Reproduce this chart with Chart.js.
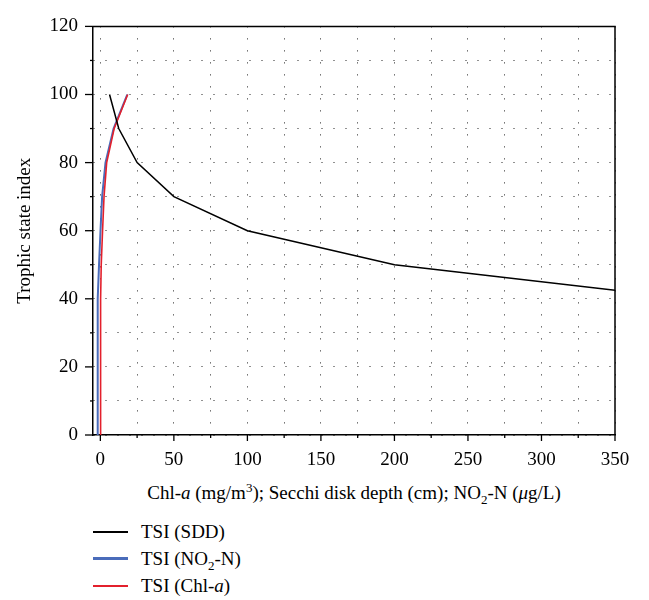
<!DOCTYPE html>
<html>
<head>
<meta charset="utf-8">
<script src="https://cdn.jsdelivr.net/npm/chart.js@4.4.0/dist/chart.umd.min.js"></script>
<style>
    body { margin: 0; background: #fff; }
    #wrap { position: relative; width: 649px; height: 600px; font-family: "Liberation Serif", serif; color: #000; }
    #chart { position: absolute; left: 0; top: 0; }
    #xtitle { position: absolute; left: 93px; width: 522px; top: 481px; text-align: center; font-size: 19px; line-height: 24px; }
    #legend { position: absolute; left: 93px; top: 518px; font-size: 19px; }
    .row { height: 27px; line-height: 27px; display: flex; align-items: center; }
    .swatch { display: inline-block; width: 35px; margin-right: 13px; }
    sub, sup { font-size: 13px; line-height: 0; }
</style>
</head>
<body>
<div id="wrap">
    <canvas id="chart" width="649" height="478"></canvas>
    <div id="xtitle">Chl-<i>a</i> (mg/m<sup>3</sup>); Secchi disk depth (cm); NO<sub>2</sub>-N (<i>μ</i>g/L)</div>
    <div id="legend"></div>
</div>
<script>
// Trophic state index curves

// TSI (SDD): Secchi depth (cm) against index
const sddDepth = [400, 200, 100, 50, 25, 12.5, 6.25];
const sddTsi = [40, 50, 60, 70, 80, 90, 100];

// TSI (NO2-N) and TSI (Chl-a) read on the same index levels
const tsiLevels = [0, 10, 20, 30, 40, 50, 60, 70, 80, 90, 100];
const no2Values = [-1.9, -1.9, -1.9, -1.8, -1.6, -0.9, 0.1, 1.2, 3.5, 9.0, 18.3];
const chlValues = [0.05, 0.08, 0.12, 0.2, 0.3, 0.6, 1.5, 2.5, 4.3, 9.4, 18.6];

const xTicks = [0, 25, 50, 75, 100, 125, 150, 175, 200, 225, 250, 275, 300, 325, 350];
const yTicks = [0, 10, 20, 30, 40, 50, 60, 70, 80, 90, 100, 110, 120];

const seriesLabels = ['TSI (SDD)', 'TSI (NO\u2082-N)', 'TSI (Chl-a)'];
const legendHtml = ['TSI (SDD)', 'TSI (NO<sub>2</sub>-N)', 'TSI (Chl-<i>a</i>)'];
const seriesColors = ['#000000', '#4a6cba', '#e3202c'];

const FONT = '"Liberation Serif", serif';

const toPoints = (xs, ys) => xs.map((x, i) => ({ x: x, y: ys[i] }));

// outward tick marks, frame on top/right
const frameTicks = {
    id: 'frameTicks',
    afterDraw(chart) {
        const ctx = chart.ctx;
        const area = chart.chartArea;
        const xs = chart.scales.x;
        const ys = chart.scales.y;
        ctx.save();
        ctx.strokeStyle = '#000';
        ctx.lineWidth = 1.5;
        ctx.beginPath();
        ctx.moveTo(area.left, area.top);
        ctx.lineTo(area.right, area.top);
        ctx.lineTo(area.right, area.bottom);
        ctx.stroke();
        ctx.lineWidth = 1.3;
        xTicks.forEach(v => {
            const px = xs.getPixelForValue(v);
            const len = v % 50 === 0 ? 6 : 3;
            ctx.beginPath();
            ctx.moveTo(px, area.bottom);
            ctx.lineTo(px, area.bottom + len);
            ctx.stroke();
        });
        yTicks.forEach(v => {
            const py = ys.getPixelForValue(v);
            const len = v % 20 === 0 ? 8 : 3;
            ctx.beginPath();
            ctx.moveTo(area.left, py);
            ctx.lineTo(area.left - len, py);
            ctx.stroke();
        });
        ctx.restore();
    }
};

new Chart(document.getElementById('chart'), {
    type: 'scatter',
    data: {
        datasets: [
            {
                label: seriesLabels[0],
                data: toPoints(sddDepth, sddTsi),
                borderColor: seriesColors[0],
                borderWidth: 1.5,
                order: 1
            },
            {
                label: seriesLabels[1],
                data: toPoints(no2Values, tsiLevels),
                borderColor: seriesColors[1],
                borderWidth: 2,
                order: 3
            },
            {
                label: seriesLabels[2],
                data: toPoints(chlValues, tsiLevels),
                borderColor: seriesColors[2],
                borderWidth: 1.6,
                order: 2
            }
        ].map(ds => Object.assign(ds, { showLine: true, pointRadius: 0, fill: false, tension: 0 }))
    },
    options: {
        responsive: false,
        animation: false,
        layout: { padding: { left: 0, right: 34, top: 12, bottom: 0 } },
        plugins: {
            legend: { display: false },
            tooltip: { enabled: false }
        },
        scales: {
            x: {
                type: 'linear',
                min: -5,
                max: 350,
                afterBuildTicks: scale => { scale.ticks = xTicks.map(v => ({ value: v })); },
                afterFit: scale => { scale.height = 43; },
                ticks: {
                    padding: 14,
                    color: '#000',
                    font: { family: FONT, size: 19 },
                    maxRotation: 0,
                    autoSkip: false,
                    callback: v => (v % 50 === 0 ? v : '')
                },
                grid: { color: '#222', lineWidth: 1, drawTicks: false },
                border: { display: true, color: '#000', width: 1.5, dash: [1, 11] }
            },
            y: {
                type: 'linear',
                min: 0,
                max: 120,
                afterBuildTicks: scale => { scale.ticks = yTicks.map(v => ({ value: v })); },
                afterFit: scale => { scale.width = 93; },
                ticks: {
                    padding: 15,
                    color: '#000',
                    font: { family: FONT, size: 19 },
                    autoSkip: false,
                    callback: v => (v % 20 === 0 ? v : '')
                },
                grid: { color: '#222', lineWidth: 1, drawTicks: false },
                border: { display: true, color: '#000', width: 1.5, dash: [1, 11] },
                title: {
                    display: true,
                    text: 'Trophic state index',
                    color: '#000',
                    font: { family: FONT, size: 19, weight: 'normal' },
                    padding: { top: 14, bottom: 4 }
                }
            }
        }
    },
    plugins: [frameTicks]
});

// legend list under the axis title
const legend = document.getElementById('legend');
legendHtml.forEach((html, i) => {
    const row = document.createElement('div');
    row.className = 'row';
    const swatch = document.createElement('span');
    swatch.className = 'swatch';
    swatch.style.height = (i === 1 ? 3 : 2) + 'px';
    swatch.style.background = seriesColors[i];
    const text = document.createElement('span');
    text.innerHTML = html;
    row.appendChild(swatch);
    row.appendChild(text);
    legend.appendChild(row);
});
</script>
</body>
</html>
